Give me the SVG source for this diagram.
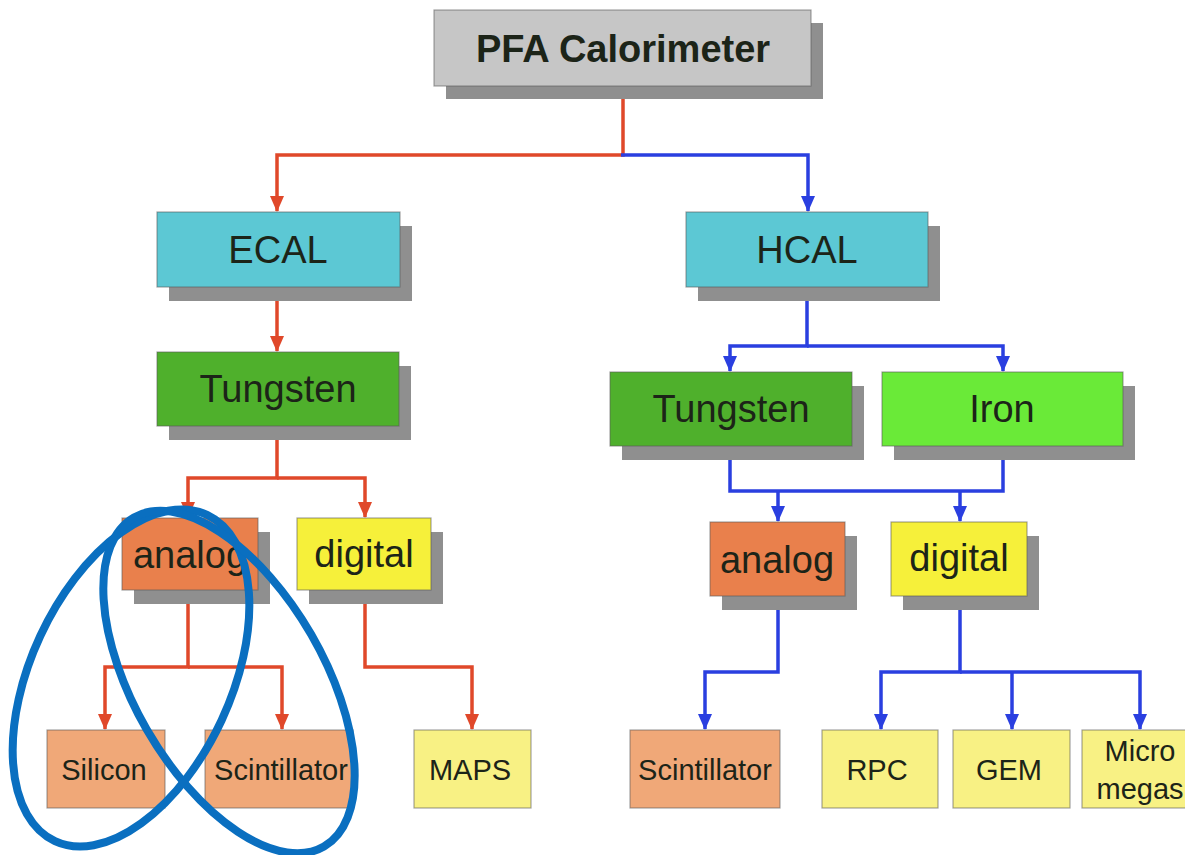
<svg xmlns="http://www.w3.org/2000/svg" width="1185" height="855" viewBox="0 0 1185 855">
<style>
.sh{fill:#8f8f8f}
.bx{stroke:#5a5a5a;stroke-opacity:0.55;stroke-width:1.2}
.t{font-family:"Liberation Sans",Arial,sans-serif;text-anchor:middle;dominant-baseline:central;fill:#1c2418}
.big{font-size:38px}
.sm{font-size:29px}
.r{fill:none;stroke:#e0482a;stroke-width:3.5}
.b{fill:none;stroke:#2a3fe0;stroke-width:3.5}
.ov{fill:none;stroke:#0a6fc0;stroke-width:8}
</style>
<defs>
<marker id="ar" markerUnits="userSpaceOnUse" markerWidth="14" markerHeight="16" refX="7" refY="15" viewBox="0 0 14 16"><path d="M0,0 L14,0 L7,16 Z" fill="#e0482a"/></marker>
<marker id="ab" markerUnits="userSpaceOnUse" markerWidth="14" markerHeight="16" refX="7" refY="15" viewBox="0 0 14 16"><path d="M0,0 L14,0 L7,16 Z" fill="#2a3fe0"/></marker>
</defs>
<rect width="1185" height="855" fill="#ffffff"/>

<g id="connectors">
<path class="r" d="M623,86 V155 H277 V211" marker-end="url(#ar)"/>
<path class="b" d="M621,155 H808 V211" marker-end="url(#ab)"/>
<path class="r" d="M277,287 V351" marker-end="url(#ar)"/>
<path class="r" d="M277,426 V478 H188 V517" marker-end="url(#ar)"/>
<path class="r" d="M277,478 H365 V517" marker-end="url(#ar)"/>
<path class="r" d="M188,590 V667 H105 V729" marker-end="url(#ar)"/>
<path class="r" d="M188,667 H282 V729" marker-end="url(#ar)"/>
<path class="r" d="M365,590 V667 H472 V729" marker-end="url(#ar)"/>
<path class="b" d="M807,287 V346 H730 V371" marker-end="url(#ab)"/>
<path class="b" d="M807,346 H1003 V371" marker-end="url(#ab)"/>
<path class="b" d="M730,446 V491 H1003 V446"/>
<path class="b" d="M778,491 V521" marker-end="url(#ab)"/>
<path class="b" d="M960,491 V521" marker-end="url(#ab)"/>
<path class="b" d="M778,596 V672 H705 V729" marker-end="url(#ab)"/>
<path class="b" d="M960,596 V672 H881 V729" marker-end="url(#ab)"/>
<path class="b" d="M960,672 H1140 V729" marker-end="url(#ab)"/>
<path class="b" d="M1012,672 V729" marker-end="url(#ab)"/>
</g>

<g id="pfa">
<rect class="sh" x="446" y="23" width="377" height="76"/>
<rect class="bx" x="434" y="10" width="377" height="76" fill="#c6c6c6"/>
<text class="t big" x="623" y="49" font-weight="bold" fill="#1a1a1a">PFA Calorimeter</text>
</g>

<g id="ecal">
<rect class="sh" x="169" y="226" width="243" height="75"/>
<rect class="bx" x="157" y="212" width="243" height="75" fill="#5cc8d4"/>
<text class="t big" x="278" y="250">ECAL</text>
</g>

<g id="hcal">
<rect class="sh" x="698" y="226" width="242" height="75"/>
<rect class="bx" x="686" y="212" width="242" height="75" fill="#5cc8d4"/>
<text class="t big" x="807" y="250">HCAL</text>
</g>

<g id="ecal-tungsten">
<rect class="sh" x="169" y="366" width="242" height="74"/>
<rect class="bx" x="157" y="352" width="242" height="74" fill="#4fb02c"/>
<text class="t big" x="278" y="389">Tungsten</text>
</g>

<g id="hcal-tungsten">
<rect class="sh" x="622" y="386" width="242" height="74"/>
<rect class="bx" x="610" y="372" width="242" height="74" fill="#4fb02c"/>
<text class="t big" x="731" y="409">Tungsten</text>
</g>

<g id="hcal-iron">
<rect class="sh" x="894" y="386" width="241" height="74"/>
<rect class="bx" x="882" y="372" width="241" height="74" fill="#6aea38"/>
<text class="t big" x="1002" y="409">Iron</text>
</g>

<g id="ecal-analog">
<rect class="sh" x="134" y="532" width="136" height="72"/>
<rect class="bx" x="122" y="518" width="136" height="72" fill="#e9804c"/>
<text class="t big" x="190" y="555">analog</text>
</g>

<g id="ecal-digital">
<rect class="sh" x="309" y="532" width="134" height="72"/>
<rect class="bx" x="297" y="518" width="134" height="72" fill="#f6f03a"/>
<text class="t big" x="364" y="554">digital</text>
</g>

<g id="hcal-analog">
<rect class="sh" x="722" y="536" width="135" height="74"/>
<rect class="bx" x="710" y="522" width="135" height="74" fill="#e9804c"/>
<text class="t big" x="777" y="560">analog</text>
</g>

<g id="hcal-digital">
<rect class="sh" x="903" y="536" width="136" height="74"/>
<rect class="bx" x="891" y="522" width="136" height="74" fill="#f6f03a"/>
<text class="t big" x="959" y="558">digital</text>
</g>

<g id="silicon">
<rect class="bx" x="47" y="730" width="118" height="78" fill="#f0a878"/>
<text class="t sm" x="104" y="770">Silicon</text>
</g>

<g id="ecal-scintillator">
<rect class="bx" x="205" y="730" width="148" height="78" fill="#f0a878"/>
<text class="t sm" x="281" y="770">Scintillator</text>
</g>

<g id="maps">
<rect class="bx" x="414" y="730" width="117" height="78" fill="#f8f184"/>
<text class="t sm" x="470" y="770">MAPS</text>
</g>

<g id="hcal-scintillator">
<rect class="bx" x="630" y="730" width="150" height="78" fill="#f0a878"/>
<text class="t sm" x="705" y="770">Scintillator</text>
</g>

<g id="rpc">
<rect class="bx" x="822" y="730" width="116" height="78" fill="#f8f184"/>
<text class="t sm" x="877" y="770">RPC</text>
</g>

<g id="gem">
<rect class="bx" x="953" y="730" width="117" height="78" fill="#f8f184"/>
<text class="t sm" x="1009" y="770">GEM</text>
</g>

<g id="micromegas">
<rect class="bx" x="1082" y="730" width="110" height="78" fill="#f8f184"/>
<text class="t sm" x="1140" y="751">Micro</text>
<text class="t sm" x="1140" y="789">megas</text>
</g>

<g id="highlight">
<ellipse class="ov" cx="131" cy="678" rx="100" ry="180" transform="rotate(25 131 678)"/>
<ellipse class="ov" cx="229" cy="682" rx="95" ry="190" transform="rotate(-30 229 682)"/>
</g>
</svg>
